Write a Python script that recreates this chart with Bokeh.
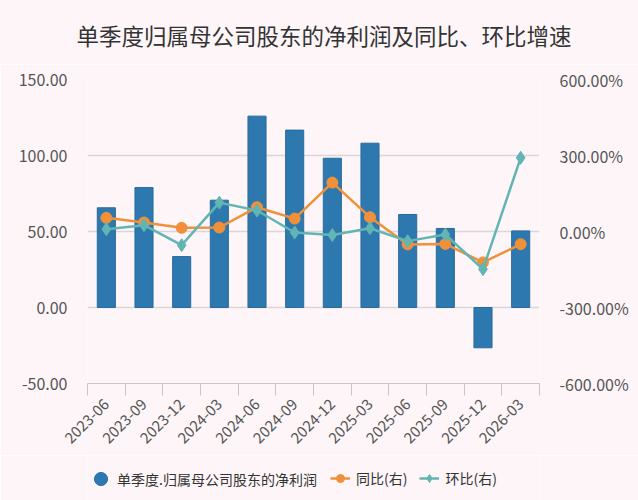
import numpy as np
from bokeh.plotting import figure
from bokeh.layouts import column
from bokeh.models import (Range1d, LinearAxis, FixedTicker, PrintfTickFormatter,
                          Legend, LegendItem, ColumnDataSource, Div)
from bokeh.embed import file_html
from bokeh.resources import INLINE

# Quarterly net profit attributable to parent shareholders and growth rates
quarters = ["2023-06", "2023-09", "2023-12", "2024-03", "2024-06", "2024-09",
            "2024-12", "2025-03", "2025-06", "2025-09", "2025-12", "2026-03"]
net_profit = [65.6, 78.9, 33.5, 70.6, 125.9, 116.7, 98.2, 108.1, 61.2, 52.0, -26.5, 50.4]
yoy_pct = [54.0, 35.5, 14.5, 15.8, 96.0, 51.0, 193.0, 56.5, -51.0, -49.0, -122.0, -50.0]
qoq_pct = [9.0, 25.0, -54.0, 114.0, 83.0, -4.0, -14.0, 13.0, -38.0, -12.0, -149.0, 291.0]

left_ticks = [-50, 0, 50, 100, 150]
right_ticks = [-600, -300, 0, 300, 600]

TITLE = "单季度归属母公司股东的净利润及同比、环比增速"
FONT = "Noto Sans CJK SC"
BG = "#FDF5F8"
BAR = "#2E78B0"
ORANGE = "#F0913A"
TEAL = "#62B5B3"
GRID = "#DAD5D9"
TICK_TEXT = "#555555"

n = len(quarters)
xc = [i + 0.5 for i in range(n)]
src = ColumnDataSource(dict(x=xc, profit=net_profit, yoy=yoy_pct, qoq=qoq_pct))

# heading
head = Div(text=TITLE, width=638, height=64, margin=0,
           styles={"background-color": BG, "font-family": FONT, "font-size": "22.5px",
                   "color": "#333333", "text-align": "center", "line-height": "70px",
                   "text-indent": "10px", "white-space": "nowrap"})

# main chart
p = figure(width=638, height=391, output_backend="svg", toolbar_location=None,
           x_range=Range1d(0, n), y_range=Range1d(-50, 150),
           background_fill_color=BG, border_fill_color=BG,
           min_border_left=87, min_border_right=99, min_border_top=15,
           min_border_bottom=72, outline_line_color=None)
p.extra_y_ranges = {"pct": Range1d(-600, 600)}

# x axis: labels at quarter centres, tick marks at the quarter boundaries
xa = p.xaxis[0]
xa.ticker = FixedTicker(ticks=xc, minor_ticks=list(range(n + 1)))
xa.major_label_overrides = {x: q for x, q in zip(xc, quarters)}
xa.major_label_orientation = np.pi / 4
xa.major_tick_out = 0
xa.major_tick_in = 0
xa.minor_tick_out = 12
xa.minor_tick_in = 0
xa.minor_tick_line_color = "#C8C4C8"
xa.axis_line_color = "#C8C4C8"
xa.major_label_text_font = FONT
xa.major_label_text_font_size = "15px"
xa.major_label_text_color = TICK_TEXT
xa.major_label_standoff = 6

ya = p.yaxis[0]
ya.ticker = FixedTicker(ticks=left_ticks)
ya.formatter = PrintfTickFormatter(format="%.2f")
ya.axis_line_color = None
ya.major_tick_line_color = None
ya.minor_tick_line_color = None
ya.major_label_text_font = FONT
ya.major_label_text_font_size = "16px"
ya.major_label_text_color = TICK_TEXT
ya.major_label_standoff = 14

ra = LinearAxis(y_range_name="pct", ticker=FixedTicker(ticks=right_ticks),
                formatter=PrintfTickFormatter(format="%.2f%%"))
ra.axis_line_color = None
ra.major_tick_line_color = None
ra.minor_tick_line_color = None
ra.major_label_text_font = FONT
ra.major_label_text_font_size = "16px"
ra.major_label_text_color = TICK_TEXT
ra.major_label_standoff = 14
p.add_layout(ra, "right")

p.xgrid.visible = False
p.ygrid.ticker = FixedTicker(ticks=[0, 50, 100, 150])
p.ygrid.grid_line_color = GRID
p.ygrid.grid_line_width = 1.5

p.vbar(x="x", top="profit", bottom=0, width=0.48, source=src,
       fill_color=BAR, line_color="#2A6A9C", line_width=1)

p.line("x", "yoy", source=src, y_range_name="pct", line_color=ORANGE, line_width=2.5)
p.scatter("x", "yoy", source=src, y_range_name="pct", marker="circle", size=11,
          fill_color=ORANGE, line_color=ORANGE)
p.line("x", "qoq", source=src, y_range_name="pct", line_color=TEAL, line_width=2.5)
p.scatter("x", "qoq", source=src, y_range_name="pct", marker="diamond", size=13,
          fill_color=TEAL, line_color=TEAL)

# legend band (no axes, no grid): swatch renderers with no visible points
lf = figure(width=638, height=45, output_backend="svg", toolbar_location=None,
            x_range=Range1d(0, 1), y_range=Range1d(0, 1),
            x_axis_location=None, y_axis_location=None,
            background_fill_color=BG, border_fill_color=BG,
            min_border=0, outline_line_color=None)
lf.grid.visible = False
nan = [float("nan")]
sw_bar = lf.scatter(x=nan, y=nan, marker="circle", fill_color=BAR, line_color=BAR)
sw_yl = lf.line(x=nan, y=nan, line_color=ORANGE, line_width=2.5)
sw_ys = lf.scatter(x=nan, y=nan, marker="circle", fill_color=ORANGE, line_color=ORANGE)
sw_ql = lf.line(x=nan, y=nan, line_color=TEAL, line_width=2.5)
sw_qs = lf.scatter(x=nan, y=nan, marker="diamond", fill_color=TEAL, line_color=TEAL)

common = dict(orientation="horizontal", background_fill_alpha=0, border_line_color=None,
              label_text_font=FONT, label_text_font_size="14px",
              label_text_color="#333333", padding=0, margin=0)

bar_legend = Legend(items=[LegendItem(label="单季度.归属母公司股东的净利润", renderers=[sw_bar])],
                    location=(-3, 5), glyph_width=33, glyph_height=33, label_standoff=0,
                    **common)
line_legend = Legend(items=[
    LegendItem(label="同比(右)", renderers=[sw_yl, sw_ys]),
    LegendItem(label="环比(右)", renderers=[sw_ql, sw_qs]),
], location=(243, 11), glyph_width=20, glyph_height=22, label_standoff=6, spacing=12,
    **common)
lf.add_layout(bar_legend)
lf.add_layout(line_legend)

layout = column(head, p, lf, spacing=0)
open("out.html", "w").write(file_html(layout, INLINE))
